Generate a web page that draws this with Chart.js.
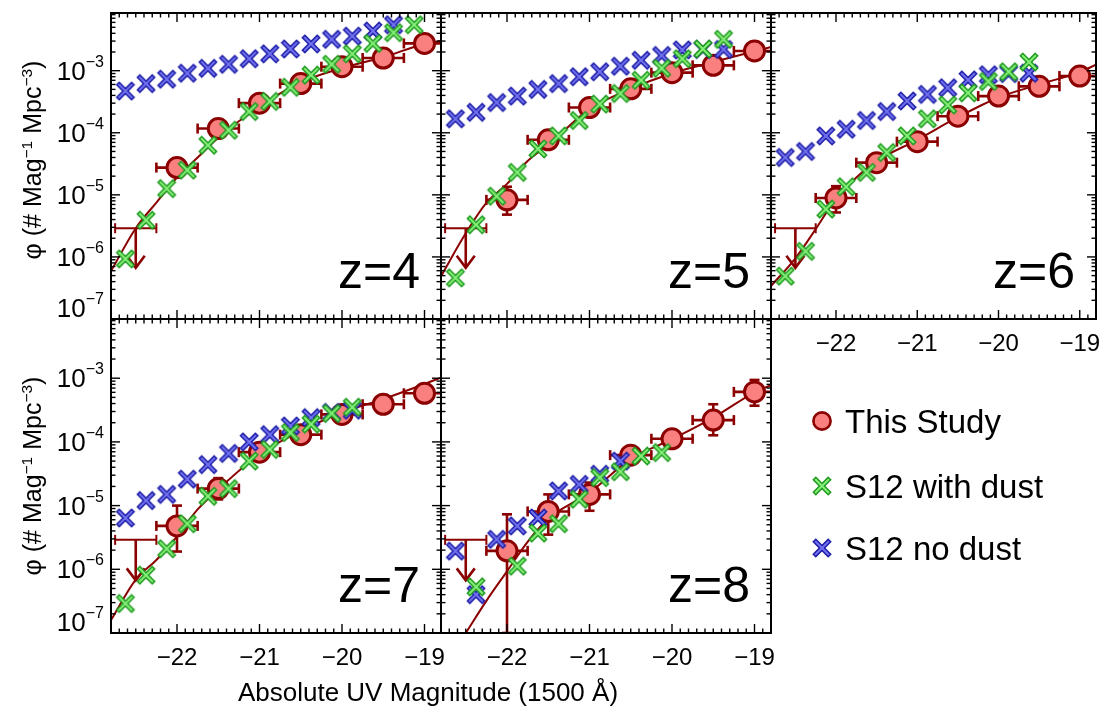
<!DOCTYPE html>
<html>
<head>
<meta charset="utf-8">
<title>UV luminosity functions, z=4-8</title>
<script src="https://cdn.jsdelivr.net/npm/chart.js"></script>
<style>
  body { margin: 0; background: #fff; font-family: "Liberation Sans", Arial, sans-serif; }
  #wrap { position: relative; width: 1109px; height: 708px; overflow: hidden; }
  #wrap canvas { position: absolute; left: 0; top: 0; }
  .ytitle { position: absolute; font-size: 25px; white-space: nowrap; line-height: 1;
            transform: translate(-50%, -50%) rotate(-90deg); }
  .xtitle { position: absolute; font-size: 26px; white-space: nowrap; line-height: 1;
            transform: translate(-50%, -50%); }
  sup { font-size: 0.62em; vertical-align: 0.55em; line-height: 0; }
  .legtext { position: absolute; font-size: 33px; line-height: 1; white-space: nowrap; transform: translateY(-50%); }
</style>
</head>
<body>
<div id="wrap"></div>

<script>
// ---- data ----

// This Study (binned points), magnitude centres and bin half width
const studyMag = [-22.0, -21.5, -21.0, -20.5, -20.0, -19.5, -19.0];
const studyBinHalf = 0.25;
const studyZ4 = [2.75e-5, 1.17e-4, 3.0e-4, 6.2e-4, 1.16e-3, 1.6e-3, 2.75e-3];
const studyZ5 = [8.3e-6, 7.7e-5, 2.55e-4, 5.1e-4, 9.3e-4, 1.22e-3, 2.08e-3];
const studyZ6 = [8.9e-6, 3.3e-5, 7.2e-5, 1.85e-4, 3.9e-4, 5.6e-4, 8.2e-4];
const studyZ7 = [4.8e-6, 1.85e-5, 6.9e-5, 1.3e-4, 2.7e-4, 3.9e-4, 5.8e-4];
const studyZ8 = [1.95e-6, 8.1e-6, 1.5e-5, 6.2e-5, 1.12e-4, 2.2e-4, 6.1e-4];

// vertical error bounds [low, high]; null where the bar hides under the marker
const studyErrZ4 = [null, null, null, null, null, null, null];
const studyErrZ5 = [[4.8e-6, 1.35e-5], null, null, null, null, null, null];
const studyErrZ6 = [[5.2e-6, 1.38e-5], null, null, null, null, null, null];
const studyErrZ7 = [[1.9e-6, 1.0e-5], [1.25e-5, 2.7e-5], null, null, null, null, null];
const studyErrZ8 = [[1.0e-7, 7.3e-6], [3.5e-6, 1.5e-5], [8.3e-6, 2.3e-5], null, null,
                    [1.27e-4, 3.9e-4], [3.7e-4, 9.4e-4]];

// upper limits at the bright end
const limitMag = -22.5;
const limitArrowTo = 6.7e-7;
const limitZ4 = 2.9e-6;
const limitZ5 = 2.9e-6;
const limitZ6 = 2.9e-6;
const limitZ7 = 2.9e-6;
const limitZ8 = 2.9e-6;

// S12 model points
const s12Mag = [-22.625, -22.375, -22.125, -21.875, -21.625, -21.375, -21.125, -20.875,
                -20.625, -20.375, -20.125, -19.875, -19.625, -19.375, -19.125];
const dustZ4 = [9.3e-7, 3.9e-6, 1.26e-5, 2.5e-5, 6.3e-5, 1.1e-4, 2.2e-4, 3.2e-4,
                5.4e-4, 8.5e-4, 1.27e-3, 1.87e-3, 2.75e-3, 4.1e-3, 5.5e-3];
const dustZ5 = [4.6e-7, 3.3e-6, 9.5e-6, 2.3e-5, 5.5e-5, 8.9e-5, 1.58e-4, 2.9e-4,
                4.3e-4, 7.0e-4, 1.09e-3, 1.56e-3, 2.24e-3, 3.2e-3, null];
const dustZ6 = [4.9e-7, 1.23e-6, 5.9e-6, 1.35e-5, 2.3e-5, 4.8e-5, 8.9e-5, 1.68e-4,
                2.8e-4, 4.4e-4, 6.7e-4, 9.6e-4, 1.38e-3, null, null];
const dustZ7 = [2.9e-7, 8.1e-7, 2.1e-6, 5.2e-6, 1.4e-5, 1.85e-5, 5.0e-5, 7.6e-5,
                1.4e-4, 1.9e-4, 2.8e-4, 3.5e-4, null, null, null];
const dustZ8 = [null, 5.3e-7, null, 1.12e-6, 3.7e-6, 5.2e-6, 1.26e-5, 2.75e-5,
                3.4e-5, 6.0e-5, 6.8e-5, null, null, null, null];

const noDustZ4 = [4.7e-4, 6.2e-4, 7.3e-4, 9.1e-4, 1.09e-3, 1.27e-3, 1.56e-3, 1.87e-3,
                  2.24e-3, 2.7e-3, 3.2e-3, 3.6e-3, 4.35e-3, 5.5e-3, null];
const noDustZ5 = [1.68e-4, 2.14e-4, 3.07e-4, 3.9e-4, 5.0e-4, 6.2e-4, 8.0e-4, 9.6e-4,
                  1.18e-3, 1.47e-3, 1.76e-3, 2.16e-3, 2.2e-3, 2.2e-3, null];
const noDustZ6 = [4.0e-5, 5.0e-5, 8.9e-5, 1.14e-4, 1.58e-4, 2.2e-4, 3.25e-4, 4.15e-4,
                  5.3e-4, 7.1e-4, 8.6e-4, 9.0e-4, 9.1e-4, null, null];
const noDustZ7 = [6.4e-6, 1.2e-5, 1.5e-5, 2.6e-5, 4.4e-5, 6.6e-5, 1.0e-4, 1.3e-4,
                  1.78e-4, 2.4e-4, 2.9e-4, 3.15e-4, null, null, null];
const noDustZ8 = [1.93e-6, 4.0e-7, 2.95e-6, 4.8e-6, 6.4e-6, 1.7e-5, 2.15e-5, 3.1e-5,
                  5.0e-5, null, null, null, null, null, null];

// fitted curve
const fitMag = [-22.8, -22.5, -22.25, -22.0, -21.75, -21.5, -21.0, -20.5, -20.0, -19.5, -19.0, -18.8];
const fitZ4 = [5.9e-7, 2.9e-6, 7.5e-6, 1.9e-5, 4.0e-5, 8.3e-5, 2.65e-4, 6.5e-4, 1.1e-3, 1.65e-3, 2.7e-3, 3.0e-3];
const fitZ5 = [4.9e-7, 2.4e-6, 7.4e-6, 1.5e-5, 3.5e-5, 6.4e-5, 2.4e-4, 5.1e-4, 9.1e-4, 1.38e-3, 2.06e-3, 2.4e-3];
const fitZ6 = [3.4e-7, 9.5e-7, 2.8e-6, 8.7e-6, 1.9e-5, 3.5e-5, 7.7e-5, 1.78e-4, 3.7e-4, 6.0e-4, 9.5e-4, 1.25e-3];
const fitZ7 = [1.6e-7, 6.9e-7, 1.4e-6, 3.3e-6, 8.7e-6, 1.8e-5, 6.4e-5, 1.48e-4, 2.9e-4, 4.7e-4, 8.1e-4, 1.02e-3];
const fitZ8 = [null, 1.0e-7, 3.2e-7, 9.3e-7, 2.7e-6, 6.2e-6, 1.6e-5, 5.4e-5, 1.1e-4, 2.4e-4, 6.0e-4, 7.8e-4];

// axes
const magRange = [-22.8, -18.8];
const phiRange = [1e-7, 8.5e-3];
const magTicks = [-22, -21, -20, -19];
const phiTicks = [1e-3, 1e-4, 1e-5, 1e-6, 1e-7];

// ---- drawing ----
const W = 1109, H = 708;
const DARK_RED = '#8b0000';
const PINK = '#fa8080';
const FONT = '"Liberation Sans", Arial, sans-serif';

const panels = [
  { name: 'z=4', box: [111, 5, 441, 319], study: studyZ4, err: studyErrZ4, limit: limitZ4,
    dust: dustZ4, noDust: noDustZ4, fit: fitZ4, xLabels: false, yLabels: true },
  { name: 'z=5', box: [441, 5, 771, 319], study: studyZ5, err: studyErrZ5, limit: limitZ5,
    dust: dustZ5, noDust: noDustZ5, fit: fitZ5, xLabels: false, yLabels: false },
  { name: 'z=6', box: [771, 5, 1101, 319], study: studyZ6, err: studyErrZ6, limit: limitZ6,
    dust: dustZ6, noDust: noDustZ6, fit: fitZ6, xLabels: true, yLabels: false },
  { name: 'z=7', box: [111, 319, 441, 633], study: studyZ7, err: studyErrZ7, limit: limitZ7,
    dust: dustZ7, noDust: noDustZ7, fit: fitZ7, xLabels: true, yLabels: true },
  { name: 'z=8', box: [441, 319, 771, 633], study: studyZ8, err: studyErrZ8, limit: limitZ8,
    dust: dustZ8, noDust: noDustZ8, fit: fitZ8, xLabels: true, yLabels: false },
];

// two-tone cross marker
function makeCross(outer, inner) {
  const c = document.createElement('canvas');
  c.width = 22; c.height = 22;
  const g = c.getContext('2d');
  const h = 6.2;
  g.lineCap = 'square';
  [[5, outer], [2, inner]].forEach(([w, col]) => {
    g.strokeStyle = col; g.lineWidth = w;
    g.beginPath();
    g.moveTo(11 - h, 11 - h); g.lineTo(11 + h, 11 + h);
    g.moveTo(11 + h, 11 - h); g.lineTo(11 - h, 11 + h);
    g.stroke();
  });
  return c;
}
const greenX = makeCross('#1f9a1f', '#86f07a');
const blueX = makeCross('#1c1ca6', '#7474f2');

function seg(ctx, x0, y0, x1, y1) {
  ctx.beginPath(); ctx.moveTo(x0, y0); ctx.lineTo(x1, y1); ctx.stroke();
}

function drawErrors(chart, p) {
  const { ctx, chartArea: a, scales: { x, y } } = chart;
  ctx.save();
  ctx.beginPath(); ctx.rect(a.left, a.top, a.right - a.left, a.bottom - a.top); ctx.clip();
  ctx.strokeStyle = DARK_RED;
  ctx.lineWidth = 2.6;
  studyMag.forEach((m, i) => {
    const v = p.study[i];
    if (v == null) return;
    const px = x.getPixelForValue(m), py = y.getPixelForValue(v);
    const x0 = x.getPixelForValue(m - studyBinHalf), x1 = x.getPixelForValue(m + studyBinHalf);
    seg(ctx, x0, py, x1, py);
    seg(ctx, x0, py - 5, x0, py + 5);
    seg(ctx, x1, py - 5, x1, py + 5);
    if (p.err[i]) {
      const y0 = y.getPixelForValue(p.err[i][0]), y1 = y.getPixelForValue(p.err[i][1]);
      seg(ctx, px, y0, px, y1);
      seg(ctx, px - 5, y0, px + 5, y0);
      seg(ctx, px - 5, y1, px + 5, y1);
    }
  });
  // upper limit with arrow
  const lx = x.getPixelForValue(limitMag), ly = y.getPixelForValue(p.limit);
  const lx0 = x.getPixelForValue(limitMag - studyBinHalf), lx1 = x.getPixelForValue(limitMag + studyBinHalf);
  ctx.lineWidth = 2;
  seg(ctx, lx0, ly, lx1, ly);
  seg(ctx, lx0, ly - 5, lx0, ly + 5);
  seg(ctx, lx1, ly - 5, lx1, ly + 5);
  const ty = y.getPixelForValue(limitArrowTo);
  ctx.lineWidth = 2.6;
  seg(ctx, lx, ly, lx, ty);
  ctx.beginPath();
  ctx.moveTo(lx - 9, ty - 12); ctx.lineTo(lx, ty); ctx.lineTo(lx + 9, ty - 12);
  ctx.stroke();
  ctx.restore();
}

function drawFrame(chart, p) {
  const { ctx, chartArea: a, scales: { x, y } } = chart;
  ctx.save();
  ctx.strokeStyle = '#000';
  ctx.lineWidth = 1.4;
  // x ticks every 0.1 mag, on top and bottom
  for (let k = Math.ceil(magRange[0] * 10); k <= Math.floor(magRange[1] * 10); k++) {
    const px = x.getPixelForValue(k / 10);
    const len = k % 10 === 0 ? 9 : 4.5;
    seg(ctx, px, a.bottom, px, a.bottom - len);
    seg(ctx, px, a.top, px, a.top + len);
  }
  // y ticks, log minor ticks
  for (let e = -8; e <= -2; e++) {
    for (let m = 1; m <= 9; m++) {
      const v = m * Math.pow(10, e);
      if (v < phiRange[0] * 0.999 || v > phiRange[1]) continue;
      const py = y.getPixelForValue(v);
      const len = m === 1 ? 9 : 4.5;
      seg(ctx, a.left, py, a.left + len, py);
      seg(ctx, a.right, py, a.right - len, py);
    }
  }
  ctx.lineWidth = 2;
  ctx.strokeRect(a.left, a.top, a.right - a.left, a.bottom - a.top);

  ctx.fillStyle = '#000';
  if (p.xLabels) {
    ctx.font = '24px ' + FONT;
    ctx.textAlign = 'center';
    ctx.textBaseline = 'middle';
    magTicks.forEach(v => {
      ctx.fillText('\u2212' + Math.abs(v), x.getPixelForValue(v), a.bottom + 25);
    });
  }
  if (p.yLabels) {
    phiTicks.forEach((v, i) => {
      const e = Math.round(Math.log10(v));
      const sup = '\u2212' + Math.abs(e);
      let py = y.getPixelForValue(v);
      if (i === phiTicks.length - 1) py -= 11;
      const right = a.left - 7;
      ctx.textBaseline = 'alphabetic';
      ctx.textAlign = 'right';
      ctx.font = '16px ' + FONT;
      const ws = ctx.measureText(sup).width;
      ctx.fillText(sup, right, py - 4);
      ctx.font = '26px ' + FONT;
      ctx.fillText('10', right - ws, py + 9);
    });
  }
  ctx.font = '50px ' + FONT;
  ctx.textAlign = 'right';
  ctx.textBaseline = 'alphabetic';
  ctx.fillText(p.name, a.right - 21, a.bottom - 31);
  ctx.restore();
}

const wrap = document.getElementById('wrap');
const pts = (xs, ys) => xs.map((m, i) => ({ x: m, y: ys[i] })).filter(d => d.y != null);

panels.forEach(p => {
  const cv = document.createElement('canvas');
  cv.width = W; cv.height = H;
  wrap.appendChild(cv);
  new Chart(cv, {
    type: 'scatter',
    data: {
      datasets: [
        { label: 'S12 with dust', data: pts(s12Mag, p.dust), pointStyle: greenX, pointRadius: 8, order: 1 },
        { label: 'S12 no dust', data: pts(s12Mag, p.noDust), pointStyle: blueX, pointRadius: 8, order: 2 },
        { label: 'This Study', data: pts(studyMag, p.study), pointStyle: 'circle', pointRadius: 10,
          pointBackgroundColor: PINK, pointBorderColor: DARK_RED, pointBorderWidth: 3, order: 3 },
        { label: 'fit', data: pts(fitMag, p.fit), showLine: true, pointRadius: 0,
          borderColor: DARK_RED, borderWidth: 2, cubicInterpolationMode: 'monotone', order: 4, clip: 0 },
      ],
    },
    options: {
      responsive: false,
      animation: false,
      events: [],
      layout: { padding: { left: p.box[0], top: p.box[1], right: W - p.box[2], bottom: H - p.box[3] } },
      scales: {
        x: { type: 'linear', min: magRange[0], max: magRange[1], display: false },
        y: { type: 'logarithmic', min: phiRange[0], max: phiRange[1], display: false },
      },
      plugins: { legend: { display: false }, tooltip: { enabled: false } },
    },
    plugins: [
      { id: 'errorBars', beforeDatasetDraw(chart, args) { if (args.index === 2) drawErrors(chart, p); } },
      { id: 'frame', afterDraw(chart) { drawFrame(chart, p); } },
    ],
  });
});

// axis titles
function addDiv(cls, html, left, top) {
  const d = document.createElement('div');
  d.className = cls;
  d.innerHTML = html;
  d.style.left = left + 'px';
  d.style.top = top + 'px';
  wrap.appendChild(d);
  return d;
}
const yTitle = '\u03c6 (# Mag<sup>\u22121</sup> Mpc<sup>\u22123</sup>)';
addDiv('ytitle', yTitle, 32, 160);
addDiv('ytitle', yTitle, 32, 476);
addDiv('xtitle', 'Absolute UV Magnitude (1500 \u00c5)', 428, 692);

// legend
const legendItems = [
  { label: 'This Study', marker: 'circle', cy: 421 },
  { label: 'S12 with dust', marker: greenX, cy: 486 },
  { label: 'S12 no dust', marker: blueX, cy: 548 },
];
legendItems.forEach(item => {
  const c = document.createElement('canvas');
  c.width = 26; c.height = 26;
  c.style.left = (822 - 13) + 'px';
  c.style.top = (item.cy - 13) + 'px';
  const g = c.getContext('2d');
  if (item.marker === 'circle') {
    g.beginPath(); g.arc(13, 13, 8.6, 0, Math.PI * 2);
    g.fillStyle = PINK; g.fill();
    g.lineWidth = 2.6; g.strokeStyle = DARK_RED; g.stroke();
  } else {
    g.drawImage(item.marker, 2, 2);
  }
  wrap.appendChild(c);
  addDiv('legtext', item.label, 845, item.cy);
});
</script>
</body>
</html>
